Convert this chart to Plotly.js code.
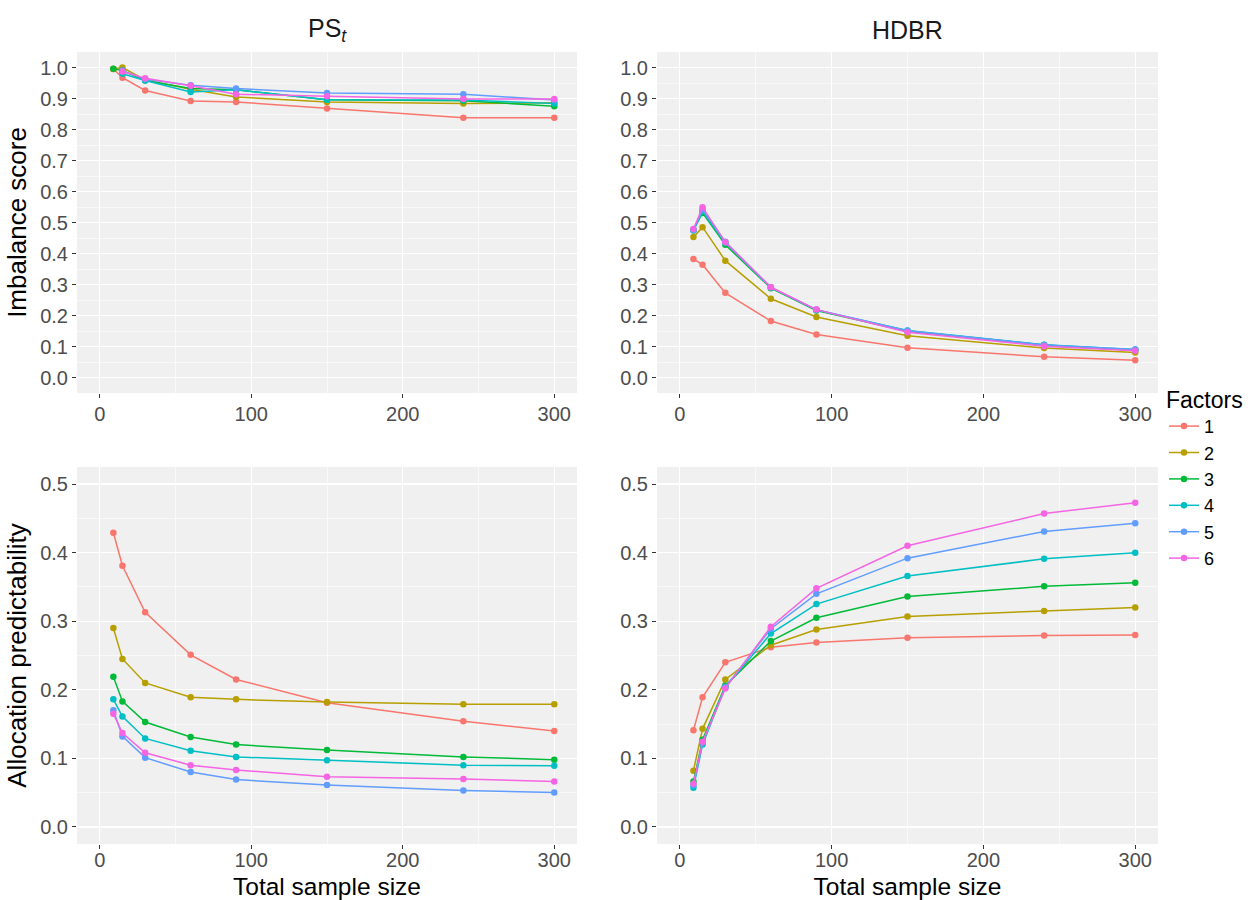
<!DOCTYPE html>
<html>
<head>
<meta charset="utf-8">
<script src="https://cdn.plot.ly/plotly-3.0.1.min.js"></script>
<style>html,body{margin:0;padding:0;background:#fff;} #chart{width:1257px;height:900px;}</style>
</head>
<body>
<div id="chart"></div>
<script>
// ---- data ----
const sampleSize = [9, 15, 30, 60, 90, 150, 240, 300];
const factorLabels = ['1', '2', '3', '4', '5', '6'];
const factorColors = ['#F8766D', '#B79F00', '#00BA38', '#00BFC4', '#619CFF', '#F564E3'];

// Imbalance score, PS_t
const psImb1 = [0.995, 0.967, 0.926, 0.892, 0.889, 0.868, 0.838, 0.838];
const psImb2 = [0.995, 1.000, 0.960, 0.930, 0.905, 0.889, 0.884, 0.886];
const psImb3 = [0.996, 0.990, 0.958, 0.932, 0.928, 0.896, 0.893, 0.875];
const psImb4 = [null, 0.980, 0.958, 0.921, 0.928, 0.896, 0.895, 0.884];
const psImb5 = [null, 0.990, 0.962, 0.943, 0.932, 0.918, 0.914, 0.895];
const psImb6 = [null, 0.987, 0.965, 0.941, 0.914, 0.907, 0.898, 0.898];

// Imbalance score, HDBR
const hdImb1 = [0.382, 0.364, 0.273, 0.182, 0.139, 0.096, 0.067, 0.056];
const hdImb2 = [0.453, 0.485, 0.377, 0.254, 0.195, 0.135, 0.095, 0.081];
const hdImb3 = [0.476, 0.531, 0.428, 0.288, 0.216, 0.149, 0.105, 0.088];
const hdImb4 = [0.474, 0.536, 0.434, 0.290, 0.218, 0.152, 0.106, 0.090];
const hdImb5 = [0.476, 0.542, 0.438, 0.291, 0.219, 0.151, 0.105, 0.090];
const hdImb6 = [0.479, 0.549, 0.436, 0.291, 0.219, 0.146, 0.101, 0.086];

// Allocation predictability, PS_t
const psPred1 = [0.429, 0.381, 0.313, 0.251, 0.215, 0.181, 0.154, 0.140];
const psPred2 = [0.290, 0.245, 0.210, 0.189, 0.186, 0.182, 0.179, 0.179];
const psPred3 = [0.219, 0.183, 0.153, 0.131, 0.120, 0.112, 0.102, 0.098];
const psPred4 = [0.186, 0.161, 0.129, 0.111, 0.102, 0.097, 0.090, 0.089];
const psPred5 = [0.170, 0.132, 0.101, 0.080, 0.069, 0.061, 0.053, 0.050];
const psPred6 = [0.165, 0.137, 0.108, 0.090, 0.083, 0.073, 0.070, 0.066];

// Allocation predictability, HDBR
const hdPred1 = [0.141, 0.189, 0.240, 0.262, 0.269, 0.276, 0.279, 0.280];
const hdPred2 = [0.082, 0.143, 0.215, 0.265, 0.288, 0.307, 0.315, 0.320];
const hdPred3 = [0.066, 0.127, 0.206, 0.271, 0.305, 0.336, 0.351, 0.356];
const hdPred4 = [0.057, 0.120, 0.204, 0.282, 0.325, 0.366, 0.391, 0.400];
const hdPred5 = [0.061, 0.123, 0.204, 0.289, 0.340, 0.392, 0.431, 0.443];
const hdPred6 = [0.063, 0.124, 0.202, 0.292, 0.348, 0.410, 0.457, 0.473];

const panels = [
  {xa: 'x',  ya: 'y',  series: [psImb1, psImb2, psImb3, psImb4, psImb5, psImb6], legend: true},
  {xa: 'x2', ya: 'y2', series: [hdImb1, hdImb2, hdImb3, hdImb4, hdImb5, hdImb6], legend: false},
  {xa: 'x3', ya: 'y3', series: [psPred1, psPred2, psPred3, psPred4, psPred5, psPred6], legend: false},
  {xa: 'x4', ya: 'y4', series: [hdPred1, hdPred2, hdPred3, hdPred4, hdPred5, hdPred6], legend: false}
];

const traces = [];
panels.forEach(p => {
  p.series.forEach((vals, i) => {
    traces.push({
      type: 'scatter', mode: 'lines+markers',
      x: sampleSize, y: vals,
      xaxis: p.xa, yaxis: p.ya,
      name: factorLabels[i], legendgroup: factorLabels[i],
      showlegend: p.legend,
      connectgaps: false,
      line: {color: factorColors[i], width: 1.5},
      marker: {color: factorColors[i], size: 6.5},
      hoverinfo: 'skip'
    });
  });
});

const FONT = 'Liberation Sans, Arial, sans-serif';
const tickFont = {family: FONT, size: 20, color: '#4D4D4D'};
const titleFont = {family: FONT, size: 24.5, color: '#000'};

function xAxis(domain, anchor, withTitle) {
  const a = {
    domain: domain, anchor: anchor, range: [-15, 315],
    tickmode: 'array', tickvals: [0, 100, 200, 300], ticktext: ['0', '100', '200', '300'],
    ticks: 'outside', ticklen: 4, tickcolor: '#333', tickwidth: 1,
    ticklabelstandoff: withTitle ? -6 : -1,
    showgrid: true, gridcolor: '#FFFFFF', gridwidth: 1.3,
    minor: {tickvals: [50, 150, 250], showgrid: true, gridcolor: '#FFFFFF', gridwidth: 0.6, ticks: ''},
    zeroline: false, showline: false, tickfont: tickFont, automargin: false
  };
  if (withTitle) a.title = {text: 'Total sample size', font: titleFont, standoff: 8};
  return a;
}
function yAxis(domain, anchor, range, maxv, title) {
  const vals = [], txt = [], mins = [];
  for (let k = 0; k <= Math.round(maxv * 10); k++) { vals.push(k / 10); txt.push((k / 10).toFixed(1)); }
  for (let k = 0; k < Math.round(maxv * 10); k++) { mins.push(k / 10 + 0.05); }
  const a = {
    domain: domain, anchor: anchor, range: range,
    tickmode: 'array', tickvals: vals, ticktext: txt,
    ticks: 'outside', ticklen: 4, tickcolor: '#333', tickwidth: 1,
    showgrid: true, gridcolor: '#FFFFFF', gridwidth: 1.3,
    minor: {tickvals: mins, showgrid: true, gridcolor: '#FFFFFF', gridwidth: 0.6, ticks: ''},
    zeroline: false, showline: false, tickfont: tickFont, automargin: false
  };
  if (title) a.title = {text: title, font: {family: FONT, size: 26, color: '#000'}, standoff: 6};
  return a;
}

const W = 1257, H = 900;
const dxL = [77 / W, 577 / W], dxR = [657 / W, 1158 / W];
const dyT = [1 - 393 / H, 1 - 52 / H], dyB = [1 - 844 / H, 1 - 467 / H];

const layout = {
  width: W, height: H,
  margin: {l: 0, r: 0, t: 0, b: 0},
  paper_bgcolor: '#FFFFFF', plot_bgcolor: '#F0F0F0',
  font: {family: FONT},
  showlegend: true,
  legend: {
    x: 1164 / W, y: 1 - 378 / H, xanchor: 'left', yanchor: 'top',
    title: {text: 'Factors', font: {family: FONT, size: 23, color: '#000'}},
    font: {family: FONT, size: 18, color: '#000'},
    itemwidth: 30, tracegroupgap: 0, bgcolor: 'rgba(0,0,0,0)'
  },
  xaxis: xAxis(dxL, 'y', false),
  yaxis: yAxis(dyT, 'x', [-0.05, 1.05], 1.0, 'Imbalance score'),
  xaxis2: xAxis(dxR, 'y2', false),
  yaxis2: yAxis(dyT, 'x2', [-0.05, 1.05], 1.0, null),
  xaxis3: xAxis(dxL, 'y3', true),
  yaxis3: yAxis(dyB, 'x3', [-0.025, 0.525], 0.5, 'Allocation predictability'),
  xaxis4: xAxis(dxR, 'y4', true),
  yaxis4: yAxis(dyB, 'x4', [-0.025, 0.525], 0.5, null),
  annotations: [
    {text: 'PS<sub><i>t</i></sub>', x: (dxL[0] + dxL[1]) / 2, y: 1 - 30 / H, xref: 'paper', yref: 'paper',
     xanchor: 'center', yanchor: 'middle', showarrow: false, font: {family: FONT, size: 25, color: '#1A1A1A'}},
    {text: 'HDBR', x: (dxR[0] + dxR[1]) / 2, y: 1 - 30 / H, xref: 'paper', yref: 'paper',
     xanchor: 'center', yanchor: 'middle', showarrow: false, font: {family: FONT, size: 25, color: '#1A1A1A'}}
  ]
};

Plotly.newPlot('chart', traces, layout, {displayModeBar: false, staticPlot: true});
</script>
</body>
</html>
